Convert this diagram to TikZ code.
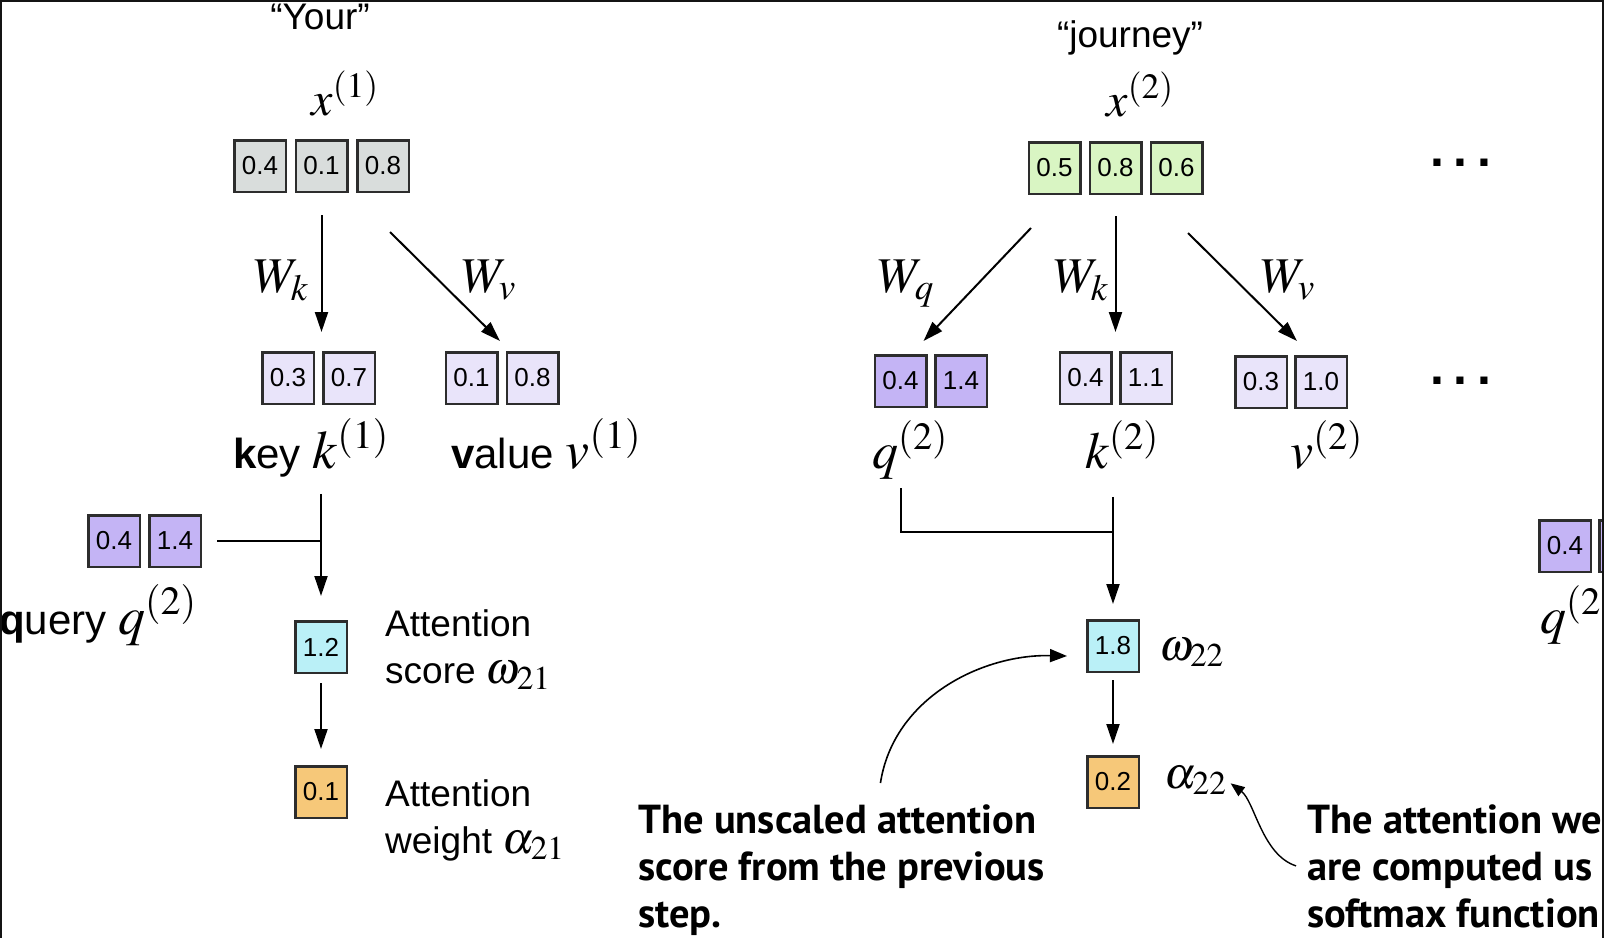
\documentclass[tikz,border=0pt]{standalone}
\usepackage{mathptmx}
\usepackage[no-math]{fontspec}
\usetikzlibrary{arrows.meta}

\newfontfamily\labfont{Liberation Sans}
\newfontfamily\notefont{PT Sans}

\definecolor{cellline}{RGB}{45,45,45}
\definecolor{framegray}{RGB}{20,20,20}
\definecolor{xgray}{RGB}{217,221,220}
\definecolor{xgreen}{RGB}{217,245,195}
\definecolor{klav}{RGB}{233,228,250}
\definecolor{qpurp}{RGB}{196,180,245}
\definecolor{scorecyan}{RGB}{186,240,247}
\definecolor{weightorange}{RGB}{246,200,121}

% math in running labels
\newcommand{\mth}[1]{{\fontsize{54}{52}\selectfont$#1$}}
\newcommand{\grk}[1]{{\fontsize{45}{47}\selectfont$#1$}}

\tikzset{
  cell/.style={draw=cellline, line width=2.5pt, minimum width=51.5pt, minimum height=51.5pt,
    inner sep=0pt, font=\labfont\fontsize{26}{30}\selectfont},
  lab/.style={inner sep=0pt, anchor=base west, font=\labfont\fontsize{42}{48}\selectfont},
  attn/.style={inner sep=0pt, anchor=base west, align=left, font=\labfont\fontsize{37}{47}\selectfont},
  mlab/.style={inner sep=0pt, anchor=base west, font=\fontsize{48}{52}\selectfont},
  vlab/.style={mlab, font=\fontsize{52}{56}\selectfont},
  wlab/.style={mlab, font=\fontsize{50}{54}\selectfont},
  glab/.style={mlab, font=\fontsize{45}{50}\selectfont},
  dots/.style={inner sep=0pt, anchor=base west, font=\labfont\bfseries\fontsize{50}{50}\selectfont},
  note/.style={inner sep=0pt, anchor=base west, align=left, font=\notefont\bfseries\fontsize{40.5}{47}\selectfont},
  arr/.style={line width=2pt, -{Triangle[length=20pt,width=13pt]}},
  link/.style={line width=2pt},
  callout/.style={line width=1.6pt, -{Triangle[length=17pt,width=13pt]}},
  callouttwo/.style={line width=1.4pt, -{Triangle[length=14pt,width=11pt]}},
}

\begin{document}
\begin{tikzpicture}[x=1pt,y=1pt,yscale=-1,xscale=1]
\useasboundingbox (0,0) rectangle (1604,938);

% Token "Your"
\node[attn, anchor=base] (your) at (320,29) {“Your”};
\node[mlab, anchor=base] (x1lab) at (345,115) {$x^{(1)}$};
% Cells: x(1)
\node[cell, fill=xgray] (x1a) at (260,166) {0.4};
\node[cell, fill=xgray] (x1b) at (321.5,166) {0.1};
\node[cell, fill=xgray] (x1c) at (383,166) {0.8};
% Weights
\node[wlab] (wk1) at (254,292) {$W_k$};
\node[wlab] (wv1) at (462,292) {$W_v$};
% Cells: k(1), v(1)
\node[cell, fill=klav] (k1a) at (288,378) {0.3};
\node[cell, fill=klav] (k1b) at (349,378) {0.7};
\node[cell, fill=klav] (v1a) at (471.5,378) {0.1};
\node[cell, fill=klav] (v1b) at (532.5,378) {0.8};
% Text Node
\node[lab] (key1) at (233,468) {{\bfseries k}ey \mth{k^{(1)}}};
\node[lab] (val1) at (451,468) {{\bfseries v}alue \mth{v^{(1)}}};
% Cells: query
\node[cell, fill=qpurp] (q1a) at (114,541) {0.4};
\node[cell, fill=qpurp] (q1b) at (175,541) {1.4};
\node[lab] (query1) at (-1,634) {{\bfseries q}uery \mth{q^{(2)}}};
% Score and weight
\node[cell, fill=scorecyan] (s21) at (321,647) {1.2};
\node[attn] (s21lab) at (385,683) {Attention\\score \grk{\omega_{21}}};
\node[cell, fill=weightorange] (w21) at (321,792) {0.1};
\node[attn] (w21lab) at (385,853) {Attention\\weight \grk{\alpha_{21}}};

% Token "journey"
\node[attn, anchor=base] (journey) at (1130,47) {“journey”};
\node[mlab, anchor=base] (x2lab) at (1140,116) {$x^{(2)}$};
% Cells: x(2)
\node[cell, fill=xgreen] (x2a) at (1054.5,168) {0.5};
\node[cell, fill=xgreen] (x2b) at (1115.5,168) {0.8};
\node[cell, fill=xgreen] (x2c) at (1176.5,168) {0.6};
\node[dots] (dotsa) at (1430,166) {.\hspace{9.5pt}.\hspace{9.5pt}.};
% Weights
\node[wlab] (wq2) at (878,292) {$W_q$};
\node[wlab] (wk2) at (1054,292) {$W_k$};
\node[wlab] (wv2) at (1261,292) {$W_v$};
% Cells: q(2), k(2), v(2)
\node[cell, fill=qpurp] (q2a) at (900.5,381) {0.4};
\node[cell, fill=qpurp] (q2b) at (961,381) {1.4};
\node[cell, fill=klav] (k2a) at (1085.5,378) {0.4};
\node[cell, fill=klav] (k2b) at (1146,378) {1.1};
\node[cell, fill=klav] (v2a) at (1261,382) {0.3};
\node[cell, fill=klav] (v2b) at (1321,382) {1.0};
\node[dots] (dotsb) at (1430,384) {.\hspace{9.5pt}.\hspace{9.5pt}.};
\node[vlab] (q2lab) at (872,468) {$q^{(2)}$};
\node[vlab] (k2lab) at (1085,468) {$k^{(2)}$};
\node[vlab] (v2lab) at (1290,468) {$v^{(2)}$};
% Score and weight
\node[cell, fill=scorecyan] (s22) at (1113,646) {1.8};
\node[glab] (om22) at (1159,660) {$\omega_{22}$};
\node[cell, fill=weightorange] (w22) at (1113,782) {0.2};
\node[glab] (al22) at (1164,788) {$\alpha_{22}$};
\coordinate (j2) at (1113,532);

% Next token, cut at the edge
\node[cell, fill=qpurp] (q3a) at (1565,546) {0.4};
\node[cell, fill=qpurp] (q3b) at (1625,546) {};
\node[vlab] (q3lab) at (1540,633) {$q^{(2)}$};

% Notes
\node[note] (note1) at (638,927) {The unscaled attention\\score from the previous\\step.};
\node[note] (note2) at (1307,927) {The attention we\\are computed us\\softmax function};

% Arrows, left
\draw[arr, shorten <=22pt, shorten >=19pt] (x1b.south) -- (x1b.south |- k1a.north);
\draw[arr] ([shift={(7,39)}]x1c.south) -- ([shift={(1.5,-10)}]v1a.north east);
\draw[arr, shorten <=17pt, shorten >=24pt] (s21.north |- key1.south) -- (s21.north);
\draw[link, shorten <=15pt] (q1b.east) -- (s21.north |- q1b.east);
\draw[arr, shorten <=9pt, shorten >=16pt] (s21.south) -- (w21.north);

% Arrows, right
\draw[arr] ([shift={(-23.5,33)}]x2a.south) -- ([shift={(-4,-13)}]q2a.north east);
\draw[arr, shorten <=21pt, shorten >=19pt] (x2b.south) -- (x2b.south |- k2a.north);
\draw[arr] ([shift={(11.5,38)}]x2c.south) -- ([shift={(9,-14)}]v2a.north east);
\draw[link, shorten <=9pt] (q2lab.south -| q2a.center) -- (q2a.center |- j2) -- (j2);
\draw[arr, shorten <=28pt, shorten >=15pt] (s22.north |- k2lab.south) -- (s22.north);
\draw[arr, shorten <=7pt, shorten >=11pt] (s22.south) -- (w22.north);

% Callouts
\draw[callout] ([shift={(39,-21)}]note1.north) .. controls +(13,-85) and +(-85,-2) .. ([shift={(-19,10)}]s22.west);
\draw[callouttwo] ([shift={(-11,0)}]note2.west) .. controls +(-34,-11) and +(24,18) .. ([shift={(4,3)}]al22.east);

% Frame
\fill[framegray] (0,0) rectangle (1604,2);
\fill[framegray] (0,0) rectangle (2,938);
\fill[framegray] (1601.5,0) rectangle (1604,938);
\end{tikzpicture}
\end{document}
